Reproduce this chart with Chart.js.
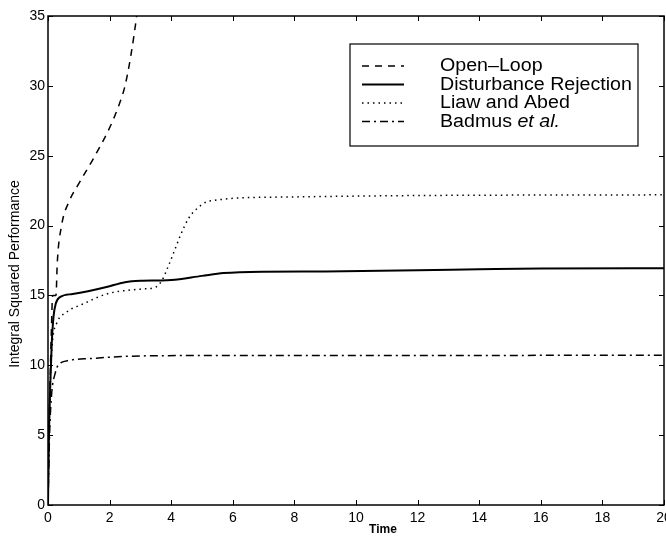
<!DOCTYPE html>
<html>
<head>
<meta charset="utf-8">
<script src="https://cdn.jsdelivr.net/npm/chart.js@4"></script>
<style>
  html, body { margin: 0; padding: 0; background: #fff; }
  #wrap { width: 666px; height: 537px; }
</style>
</head>
<body>
<div id="wrap"><canvas id="perfChart"></canvas></div>
<script>
// ---- data ----
const openT = [0, 0.03, 0.07, 0.11, 0.15, 0.26, 0.3, 0.44, 0.7, 1.0, 1.5, 2.0, 2.3, 2.5, 2.7, 2.88, 3.0];
const openV = [0, 5, 9, 12.5, 15, 15, 17.3, 20, 21.8, 23, 24.9, 27, 28.6, 30, 32.3, 35, 37];

const distT = [0, 0.03, 0.08, 0.12, 0.18, 0.25, 0.4, 0.8, 1.3, 1.9, 2.5, 3.0, 3.6, 4.0, 5.0, 5.7, 7.0, 9.0, 12, 14, 16, 20];
const distV = [0, 5, 9, 11.5, 13.5, 14.4, 14.9, 15.1, 15.3, 15.6, 15.95, 16.05, 16.07, 16.1, 16.4, 16.6, 16.7, 16.72, 16.8, 16.87, 16.93, 16.95];

const liawT = [0, 0.05, 0.1, 0.15, 0.28, 0.6, 1.15, 1.9, 3.0, 3.5, 3.7, 3.85, 4.07, 4.3, 4.56, 4.83, 5.15, 5.4, 6.0, 8.0, 12, 20];
const liawV = [0, 7, 10, 11.8, 13.0, 13.8, 14.4, 15.1, 15.45, 15.6, 16.07, 16.8, 18.0, 19.3, 20.5, 21.2, 21.7, 21.8, 21.95, 22.05, 22.15, 22.2];

const badT = [0, 0.05, 0.12, 0.23, 0.33, 0.71, 1.36, 3.0, 6.0, 10, 20];
const badV = [0, 5, 8, 9.4, 10.0, 10.36, 10.48, 10.67, 10.7, 10.7, 10.72];

const xTicks = [0, 2, 4, 6, 8, 10, 12, 14, 16, 18, 20];
const yTicks = [0, 5, 10, 15, 20, 25, 30, 35];

const seriesNames = ["Open\u2013Loop", "Disturbance Rejection", "Liaw and Abed", "Badmus"];

function pts(ts, vs) {
    return ts.map((t, i) => ({ x: t, y: vs[i] }));
}

const FONT = "'Liberation Sans', Arial, Helvetica, sans-serif";

// inward ticks on all four sides + box frame + axis titles (MATLAB look)
const frameTicks = {
    id: "frameTicks",
    afterDraw(chart) {
        const { ctx, chartArea: a, scales } = chart;
        ctx.save();
        ctx.strokeStyle = "#000";
        ctx.lineWidth = 1.5;
        ctx.strokeRect(a.left, a.top, a.right - a.left, a.bottom - a.top);
        ctx.lineWidth = 1;
        const len = 5;
        ctx.beginPath();
        xTicks.forEach(v => {
            const px = Math.round(scales.x.getPixelForValue(v)) + 0.5;
            ctx.moveTo(px, a.bottom); ctx.lineTo(px, a.bottom - len);
            ctx.moveTo(px, a.top); ctx.lineTo(px, a.top + len);
        });
        yTicks.forEach(v => {
            const py = Math.round(scales.y.getPixelForValue(v)) + 0.5;
            ctx.moveTo(a.left, py); ctx.lineTo(a.left + len, py);
            ctx.moveTo(a.right, py); ctx.lineTo(a.right - len, py);
        });
        ctx.stroke();

        // axis titles
        ctx.fillStyle = "#000";
        ctx.textAlign = "center";
        ctx.textBaseline = "middle";
        ctx.font = "bold 12px " + FONT;
        ctx.fillText("Time", 383, 530);
        ctx.font = "14px " + FONT;
        ctx.translate(15, 274);
        ctx.rotate(-Math.PI / 2);
        ctx.fillText("Integral Squared Performance", 0, 0);
        ctx.restore();
    }
};

// legend box drawn the way the figure has it (with italic "et al.")
const boxLegend = {
    id: "boxLegend",
    afterDraw(chart) {
        const ctx = chart.ctx;
        const bx = 350, by = 44, bw = 288, bh = 102;
        ctx.save();
        ctx.fillStyle = "#fff";
        ctx.fillRect(bx, by, bw, bh);
        ctx.strokeStyle = "#000";
        ctx.lineWidth = 1.2;
        ctx.strokeRect(bx, by, bw, bh);
        const rows = [71, 89.5, 108, 126.5];
        chart.data.datasets.forEach((ds, i) => {
            const y = rows[i];
            ctx.beginPath();
            ctx.setLineDash(ds.borderDash || []);
            ctx.lineWidth = ds.borderWidth;
            ctx.moveTo(362, y - 5);
            ctx.lineTo(404, y - 5);
            ctx.stroke();
            ctx.setLineDash([]);
            ctx.save();
            ctx.translate(440, y);
            ctx.scale(1.09, 1);
            ctx.fillStyle = "#000";
            ctx.textAlign = "left";
            ctx.textBaseline = "alphabetic";
            ctx.font = "18px " + FONT;
            ctx.fillText(seriesNames[i], 0, 0);
            if (i === 3) {
                const w = ctx.measureText(seriesNames[i] + " ").width;
                ctx.font = "italic 18px " + FONT;
                ctx.fillText("et al.", w, 0);
            }
            ctx.restore();
        });
        ctx.restore();
    }
};

const common = {
    borderColor: "#000",
    backgroundColor: "#000",
    borderWidth: 1.5,
    pointRadius: 0,
    fill: false,
    cubicInterpolationMode: "monotone"
};

new Chart(document.getElementById("perfChart"), {
    type: "line",
    data: {
        datasets: [
            { ...common, label: seriesNames[0], data: pts(openT, openV), borderDash: [7, 6] },
            { ...common, label: seriesNames[1], data: pts(distT, distV), borderWidth: 2 },
            { ...common, label: seriesNames[2], data: pts(liawT, liawV), borderDash: [1.5, 4] },
            { ...common, label: seriesNames[3], data: pts(badT, badV), borderDash: [8, 4, 2, 4] }
        ]
    },
    options: {
        responsive: true,
        maintainAspectRatio: false,
        animation: false,
        layout: { padding: { top: 16, right: 2, left: 0, bottom: 0 } },
        plugins: {
            legend: { display: false },
            tooltip: { enabled: false }
        },
        scales: {
            x: {
                type: "linear",
                min: 0,
                max: 20,
                afterFit: s => { s.height = 32; s.paddingLeft = 0; s.paddingRight = 0; },
                afterBuildTicks: s => { s.ticks = xTicks.map(v => ({ value: v })); },
                ticks: {
                    color: "#000",
                    padding: 5,
                    maxRotation: 0,
                    font: { family: FONT, size: 14 }
                },
                grid: { display: false, drawTicks: false, tickLength: 0 },
                border: { display: false }
            },
            y: {
                type: "linear",
                min: 0,
                max: 35,
                afterFit: s => { s.width = 48; s.paddingTop = 0; s.paddingBottom = 0; },
                afterBuildTicks: s => { s.ticks = yTicks.map(v => ({ value: v })); },
                ticks: {
                    color: "#000",
                    padding: 3,
                    font: { family: FONT, size: 14 }
                },
                grid: { display: false, drawTicks: false, tickLength: 0 },
                border: { display: false }
            }
        }
    },
    plugins: [frameTicks, boxLegend]
});
</script>
</body>
</html>
